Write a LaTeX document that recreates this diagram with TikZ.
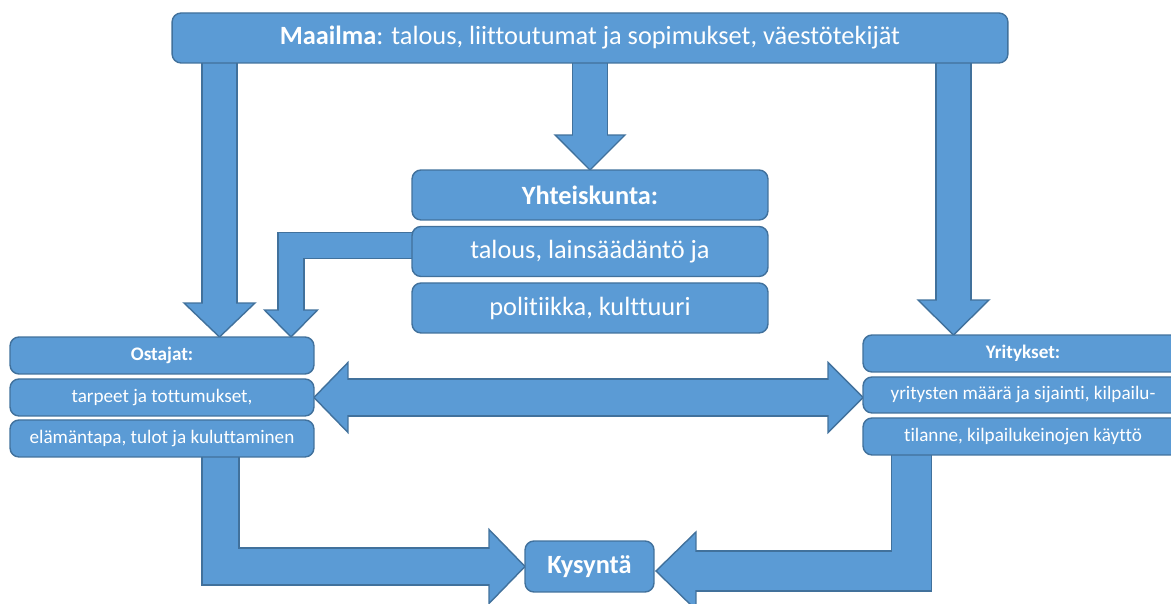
\documentclass[tikz,border=0pt]{standalone}
\usepackage{fontspec}
\setmainfont{Carlito}[Ligatures=NoCommon]
\usetikzlibrary{positioning,calc,backgrounds}
\definecolor{boxblue}{RGB}{91,155,213}
\definecolor{edgeblue}{RGB}{65,113,156}
\tikzset{
	box/.style={draw=edgeblue, fill=boxblue, line width=0.8pt, rounded corners=0.18cm, text=white,
		outer sep=0mm, inner sep=0mm, align=center},
	bigtext/.style={font=\fontsize{15pt}{18pt}\selectfont},
	smalltext/.style={font=\fontsize{10.9pt}{13pt}\selectfont},
	shaftedge/.style={draw=edgeblue, line width=#1+0.8pt, line join=miter},
	shaftfill/.style={draw=boxblue, line width=#1-0.8pt, line join=miter},
	arrowtop/.style={fill=boxblue, draw=edgeblue, line width=0.8pt, line join=miter}
}
% head of a block arrow: base, tip, half width
\newcommand{\fatHead}[3]{\filldraw[arrowtop] ($(#1)!#3!90:(#2)$) -- (#2) -- ($(#1)!#3!-90:(#2)$) -- cycle;}
% block arrow: shaft path, head base, tip, shaft width, half head width
\newcommand{\fatArrow}[5]{\draw[shaftedge=#4] #1;
	\fatHead{#2}{#3}{#5}
	\draw[shaftfill=#4, shorten >=-0.8pt] #1;}

\begin{document}
\begin{tikzpicture}[x=0.02cm, y=-0.02cm]
	\useasboundingbox (0,0) rectangle (1171,604);

	\node[box, bigtext, minimum width=16.72cm, minimum height=1cm] (maailma) at (590,38)
		{\textbf{Maailma}: talous, liittoutumat ja sopimukset, väestötekijät};

	\node[box, bigtext, minimum width=7.12cm, minimum height=1cm] (yht1) at (590,195) {\textbf{Yhteiskunta:}};
	\node[box, bigtext, minimum width=7.12cm, minimum height=1cm, below=0.13cm of yht1] (yht2) {talous, lainsäädäntö ja};
	\node[box, bigtext, minimum width=7.12cm, minimum height=1cm, below=0.13cm of yht2] (yht3) {politiikka, kulttuuri};

	\node[box, smalltext, minimum width=6.08cm, minimum height=0.74cm] (ost1) at (162,355.5) {\textbf{Ostajat:}};
	\node[box, smalltext, minimum width=6.08cm, minimum height=0.74cm, below=0.1cm of ost1] (ost2) {tarpeet ja tottumukset,};
	\node[box, smalltext, minimum width=6.08cm, minimum height=0.74cm, below=0.08cm of ost2] (ost3) {elämäntapa, tulot ja kuluttaminen};

	\node[box, smalltext, minimum width=6.4cm, minimum height=0.74cm] (yri1) at (1023,353.5) {\textbf{Yritykset:}};
	\node[box, smalltext, minimum width=6.4cm, minimum height=0.72cm, below=0.1cm of yri1] (yri2) {yritysten määrä ja sijainti, kilpailu-};
	\node[box, smalltext, minimum width=6.4cm, minimum height=0.74cm, below=0.1cm of yri2] (yri3) {tilanne, kilpailukeinojen käyttö};

	\node[box, bigtext, minimum width=2.58cm, minimum height=1.02cm] (kysynta) at (589.5,566.5) {\textbf{Kysyntä}};

	\begin{scope}[on background layer]
		% Maailma down to the three boxes
		\coordinate (x1) at (219.5,0);
		\coordinate (a1s) at ($(x1 |- maailma.south)+(0,-5)$);
		\coordinate (a1t) at (x1 |- ost1.north);
		\coordinate (a1b) at ($(a1t)+(0,-34)$);
		\fatArrow{(a1s) -- (a1b)}{a1b}{a1t}{0.7cm}{0.71cm}

		\coordinate (a2s) at ($(maailma.south)+(0,-5)$);
		\coordinate (a2t) at (yht1.north);
		\coordinate (a2b) at ($(a2t)+(0,-35)$);
		\fatArrow{(a2s) -- (a2b)}{a2b}{a2t}{0.7cm}{0.7cm}

		\coordinate (x3) at (953.5,0);
		\coordinate (a3s) at ($(x3 |- maailma.south)+(0,-5)$);
		\coordinate (a3t) at (x3 |- yri1.north);
		\coordinate (a3b) at ($(a3t)+(0,-35)$);
		\fatArrow{(a3s) -- (a3b)}{a3b}{a3t}{0.7cm}{0.71cm}

		% Yhteiskunta to Ostajat
		\coordinate (x4) at (291,0);
		\coordinate (a4s) at ($(yht2.west)+(10,-6)$);
		\coordinate (a4c) at (x4 |- a4s);
		\coordinate (a4t) at (x4 |- ost1.north);
		\coordinate (a4b) at ($(a4t)+(0,-27)$);
		\fatArrow{(a4s) -- (a4c) -- (a4b)}{a4b}{a4t}{0.52cm}{0.53cm}

		% Ostajat <-> Yritykset
		\coordinate (a5l) at (ost2.east);
		\coordinate (a5r) at (yri2.west |- ost2.east);
		\coordinate (a5lb) at ($(a5l)+(34,0)$);
		\coordinate (a5rb) at ($(a5r)+(-35,0)$);
		\draw[shaftedge=0.74cm] (a5lb) -- (a5rb);
		\fatHead{a5lb}{a5l}{0.7cm}
		\fatHead{a5rb}{a5r}{0.7cm}
		\draw[shaftfill=0.74cm, shorten <=-0.8pt, shorten >=-0.8pt] (a5lb) -- (a5rb);

		% down and into Kysyntä
		\coordinate (x6) at (220.5,0);
		\coordinate (a6s) at ($(x6 |- ost3.south)+(0,-5)$);
		\coordinate (a6t) at (kysynta.west);
		\coordinate (a6c) at (x6 |- a6t);
		\coordinate (a6b) at ($(a6t)+(-36,0)$);
		\fatArrow{(a6s) -- (a6c) -- (a6b)}{a6b}{a6t}{0.74cm}{0.74cm}

		\coordinate (x7) at (911.5,0);
		\coordinate (a7s) at ($(x7 |- yri3.south)+(0,-5)$);
		\coordinate (a7t) at ($(kysynta.east)+(2,4.5)$);
		\coordinate (a7c) at (x7 |- a7t);
		\coordinate (a7b) at ($(a7t)+(40,0)$);
		\fatArrow{(a7s) -- (a7c) -- (a7b)}{a7b}{a7t}{0.8cm}{0.78cm}
	\end{scope}
\end{tikzpicture}
\end{document}
